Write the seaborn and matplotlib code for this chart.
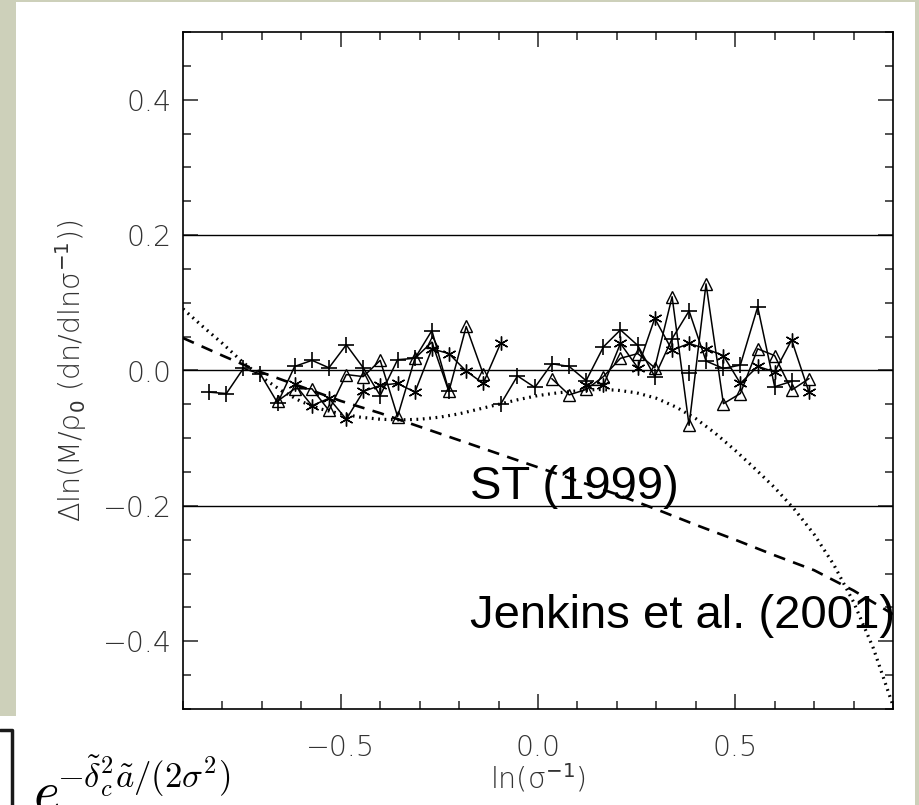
import numpy as np
import pandas as pd
import seaborn as sns
import matplotlib
matplotlib.use("Agg")
import matplotlib.pyplot as plt
from matplotlib.patches import Rectangle
from matplotlib.lines import Line2D

# ---------------- data ----------------
plus_a_x = [-0.834, -0.790, -0.747, -0.704, -0.660, -0.617, -0.573, -0.530, -0.486,
            -0.443, -0.400, -0.356, -0.312, -0.269, -0.226]
plus_a_y = [-0.032, -0.034, 0.003, -0.005, -0.048, 0.006, 0.015, 0.004, 0.038,
            0.004, -0.037, 0.016, 0.018, 0.059, -0.030]

plus_b_x = [-0.095, -0.052, -0.008, 0.035, 0.079, 0.122, 0.166, 0.209, 0.253,
            0.296, 0.340, 0.383, 0.426, 0.470, 0.513, 0.557, 0.600, 0.643]
plus_b_y = [-0.050, -0.008, -0.025, 0.010, 0.006, -0.015, 0.035, 0.060, 0.037,
            -0.009, 0.047, 0.088, 0.014, 0.003, 0.008, 0.094, -0.024, -0.016]

plus_c_x = [0.383]
plus_c_y = [-0.003]

tri_a_x = [-0.660, -0.617, -0.573, -0.530, -0.486, -0.443, -0.400, -0.356, -0.312,
           -0.269, -0.226, -0.182, -0.139]
tri_a_y = [-0.045, -0.027, -0.027, -0.059, -0.006, -0.009, 0.015, -0.068, 0.018,
           0.042, -0.031, 0.065, -0.005]

tri_b_x = [0.035, 0.079, 0.122, 0.166, 0.209, 0.253, 0.296, 0.340, 0.383, 0.426,
           0.470, 0.513, 0.557, 0.600, 0.643, 0.687]
tri_b_y = [-0.012, -0.036, -0.028, -0.009, 0.018, 0.025, 0.004, 0.109, -0.081, 0.128,
           -0.049, -0.034, 0.032, 0.022, -0.029, -0.012]

ast_a_x = [-0.617, -0.573, -0.530, -0.486, -0.443, -0.400, -0.356, -0.312, -0.269,
           -0.226, -0.182, -0.139, -0.095]
ast_a_y = [-0.020, -0.052, -0.041, -0.072, -0.031, -0.022, -0.019, -0.032, 0.032,
           0.025, -0.001, -0.019, 0.040]

ast_b_x = [0.122, 0.166, 0.209, 0.253, 0.296, 0.340, 0.383, 0.426, 0.470, 0.513,
           0.557, 0.600, 0.643, 0.687]
ast_b_y = [-0.022, -0.022, 0.040, 0.004, 0.077, 0.030, 0.040, 0.032, 0.022, -0.019,
           0.006, -0.002, 0.045, -0.032]

# fitting-function curves
st_x = [-0.9, -0.8, -0.7, -0.6, -0.5, -0.4, -0.3, -0.2, -0.1, 0.0,
        0.1, 0.2, 0.3, 0.4, 0.5, 0.6, 0.7, 0.8, 0.9]
st_y = [0.048, 0.022, -0.003, -0.024, -0.045, -0.063, -0.083, -0.103, -0.123, -0.143,
        -0.163, -0.183, -0.205, -0.228, -0.250, -0.273, -0.295, -0.325, -0.360]

jen_x = [-0.90, -0.85, -0.80, -0.75, -0.70, -0.65, -0.60, -0.55, -0.50, -0.45,
         -0.40, -0.35, -0.30, -0.25, -0.20, -0.15, -0.10, -0.05, 0.00, 0.05,
         0.10, 0.15, 0.20, 0.25, 0.30, 0.35, 0.40, 0.45, 0.50, 0.55,
         0.60, 0.65, 0.70, 0.75, 0.80, 0.85, 0.90]
jen_y = [0.091, 0.065, 0.040, 0.013, -0.010, -0.030, -0.046, -0.057, -0.064, -0.069,
         -0.072, -0.073, -0.072, -0.069, -0.064, -0.057, -0.050, -0.043, -0.037, -0.033,
         -0.030, -0.028, -0.029, -0.033, -0.041, -0.054, -0.071, -0.093, -0.118, -0.145,
         -0.173, -0.205, -0.242, -0.287, -0.342, -0.410, -0.495]

ref_lines = [-0.2, 0.0, 0.2]
xticks = [-0.5, 0.0, 0.5]
xtick_labels = ["\u22120.5", "0.0", "0.5"]
yticks = [-0.4, -0.2, 0.0, 0.2, 0.4]
ytick_labels = ["\u22120.4", "\u22120.2", "0.0", "0.2", "0.4"]

# ---------------- figure ----------------
sns.set_theme(style="ticks")
plt.rcParams["font.family"] = ["DejaVu Sans"]
plt.rcParams["mathtext.fontset"] = "dejavusans"

W, H = 920, 805
BG = "#CDD0BA"
fig = plt.figure(figsize=(W / 100, H / 100), dpi=100, facecolor=BG)

def fx(px):
    return px / W

def fy(py):
    return 1 - py / H

# white slide panel
fig.add_artist(Rectangle((fx(16), 0), fx(915) - fx(16), fy(2), transform=fig.transFigure,
                         facecolor="white", edgecolor="none", zorder=0))
fig.add_artist(Rectangle((0, 0), fx(17), fy(716), transform=fig.transFigure,
                         facecolor="white", edgecolor="none", zorder=0))

ax = fig.add_axes([fx(183), fy(709), fx(893) - fx(183), (709 - 32) / H])
ax.set_facecolor("white")

for yv in ref_lines:
    ax.axhline(yv, color="black", lw=1.0, zorder=1)

mk_common = dict(color="black", linewidth=1.1, markeredgecolor="black", sort=False,
                 estimator=None, legend=False, ax=ax)

def series(xs, ys, **kw):
    df = pd.DataFrame({"x": xs, "y": ys})
    args = dict(mk_common)
    args.update(kw)
    sns.lineplot(data=df, x="x", y="y", **args)

series(plus_a_x, plus_a_y, marker="+", markersize=11, markeredgewidth=1.2)
series(plus_b_x, plus_b_y, marker="+", markersize=11, markeredgewidth=1.2)
series(plus_c_x, plus_c_y, marker="+", markersize=11, markeredgewidth=1.2)
series(tri_a_x, tri_a_y, marker="^", markersize=9, markeredgewidth=1.0,
       markerfacecolor="none")
series(tri_b_x, tri_b_y, marker="^", markersize=9, markeredgewidth=1.0,
       markerfacecolor="none")
series(ast_a_x, ast_a_y, marker=(6, 2, 0), markersize=10, markeredgewidth=1.0)
series(ast_b_x, ast_b_y, marker=(6, 2, 0), markersize=10, markeredgewidth=1.0)

sns.lineplot(x=st_x, y=st_y, ax=ax, color="black", linewidth=1.9, sort=False,
             estimator=None, legend=False, dashes=False, linestyle=(0, (4.5, 3.2)))
sns.lineplot(x=jen_x, y=jen_y, ax=ax, color="black", linewidth=2.3, sort=False,
             estimator=None, legend=False, dashes=False, linestyle=(0, (0.55, 1.45)))

ax.set_xlim(-0.9, 0.9)
ax.set_ylim(-0.5, 0.5)
ax.set_xticks(xticks)
ax.set_xticklabels(xtick_labels)
ax.set_yticks(yticks)
ax.set_yticklabels(ytick_labels)
ax.set_xticks(np.arange(-0.9, 0.91, 0.1), minor=True)
ax.set_yticks(np.arange(-0.5, 0.51, 0.05), minor=True)

for sp in ax.spines.values():
    sp.set_visible(True)
    sp.set_color("black")
    sp.set_linewidth(1.2)

tick_col = "#444444"
ax.tick_params(which="both", direction="in", top=True, right=True, color=tick_col,
               width=1.3)
ax.tick_params(which="major", length=11)
ax.tick_params(which="minor", length=5.5)
ax.tick_params(axis="x", which="major", pad=18, labelsize=20.5, labelcolor="#333333")
ax.tick_params(axis="y", which="major", pad=8, labelsize=20.5, labelcolor="#333333")
for lab in ax.get_xticklabels() + ax.get_yticklabels():
    lab.set_fontweight("light")

ax.set_xlabel("ln(\u03c3$^{-1}$)", fontsize=20.5, color="#333333", labelpad=0,
              fontweight="light")
ax.set_ylabel("\u0394ln(M/\u03c1$_0$ (dn/dln\u03c3$^{-1}$))", fontsize=20.5,
              color="#333333", labelpad=10, fontweight="light")

# annotation labels
ax.text(-0.173, -0.172, "ST (1999)", fontsize=34, family="Liberation Sans",
        color="black", va="center", ha="left", clip_on=False, zorder=5)
ax.text(-0.173, -0.362, "Jenkins et al. (2001)", fontsize=34, family="Liberation Sans",
        color="black", va="center", ha="left", clip_on=False, zorder=5)

# formula fragment from the slide (cut by the slide edge, as in the source)
fig.text(fx(33), fy(810), r"$e$", fontsize=40, math_fontfamily="cm",
         color="black", ha="left", va="baseline")
fig.text(fx(57), fy(788), r"$-\tilde{\delta}_c^2\tilde{a}/(2\sigma^2)$",
         fontsize=25, math_fontfamily="cm", color="black", ha="left", va="baseline")
fig.add_artist(Line2D([fx(0), fx(12), fx(12)], [fy(730), fy(730), fy(812)],
                      transform=fig.transFigure, color="#1a1a1a", lw=2.5))

fig.savefig("out.png", dpi=100, facecolor=BG)
